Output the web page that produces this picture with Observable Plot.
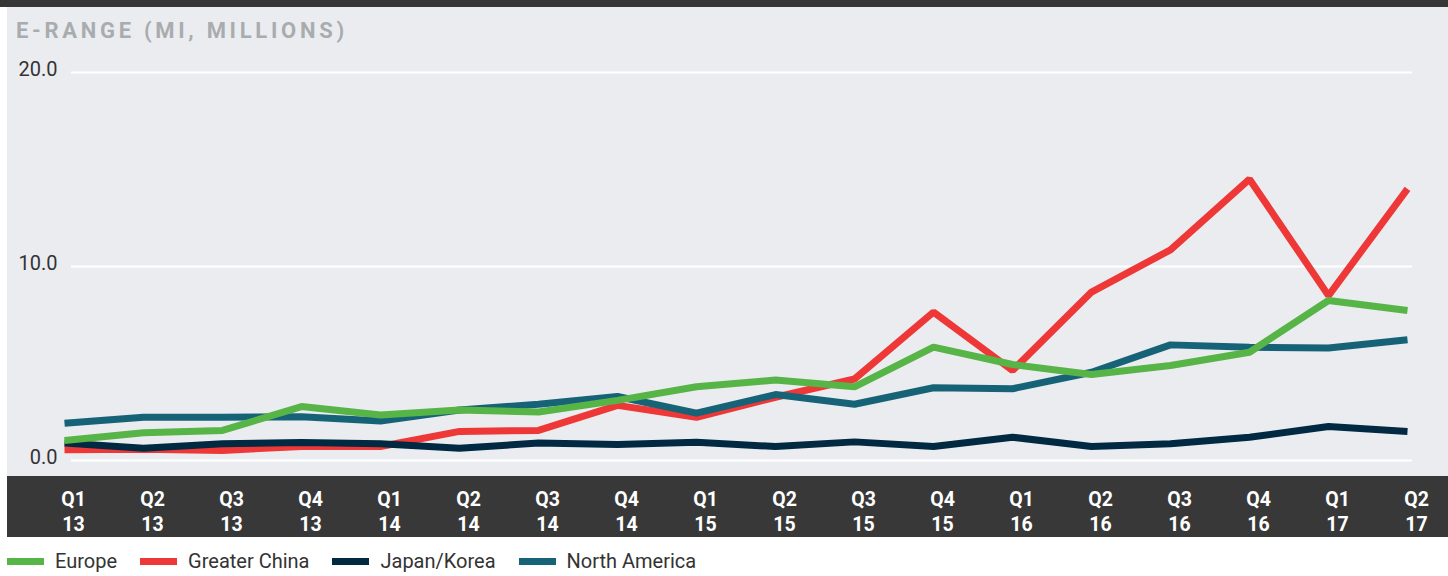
<!DOCTYPE html>
<html>
<head>
<meta charset="utf-8">
<script src="https://cdn.jsdelivr.net/npm/d3@7"></script>
<script src="https://cdn.jsdelivr.net/npm/@observablehq/plot@0.6"></script>
<style>
  html, body { margin: 0; padding: 0; background: #fff; font-family: Roboto, "Noto Sans", sans-serif; }
  #page { width: 1448px; height: 576px; position: relative; overflow: hidden; }
  #topbar { height: 7px; background: #363636; }
  #panel { position: relative; margin-left: 7px; width: 1441px; height: 530px; background: #EBECF0; }
  #band { position: absolute; left: 0; right: 0; top: 469px; height: 61px; background: #383838; }
  #title { position: relative; height: 43px; padding-left: 9px; box-sizing: border-box; padding-top: 11px;
           font-size: 22px; font-weight: 700; letter-spacing: 3.7px; color: #A9ACAF; line-height: 26px; white-space: nowrap; }
  #chart { position: relative; }
  #chart svg { display: block; background: transparent; }
  #legend { display: flex; align-items: center; height: 39px; padding-left: 7px; padding-top: 9px; box-sizing: border-box; font-size: 20px; color: #333; }
  .item { display: flex; align-items: center; margin-right: 23px; }
  .sw { width: 37px; height: 7px; margin-right: 11px; }
</style>
</head>
<body>
<div id="page">
  <div id="topbar"></div>
  <div id="panel">
    <div id="band"></div>
    <div id="title">E-RANGE (MI, MILLIONS)</div>
    <div id="chart"></div>
  </div>
  <div id="legend"></div>
</div>
<script>
const quarterLabels = ["Q1","Q2","Q3","Q4","Q1","Q2","Q3","Q4","Q1","Q2","Q3","Q4","Q1","Q2","Q3","Q4","Q1","Q2"];
const yearLabels    = ["13","13","13","13","14","14","14","14","15","15","15","15","16","16","16","16","17","17"];
const seriesNames = ["Europe", "Greater China", "Japan/Korea", "North America"];
const seriesColors = ["#57B447", "#EE3837", "#012A42", "#166377"];
const yTicks = [0, 10, 20];

const europe  = [1.03,1.43,1.55,2.78,2.35,2.6,2.5,3.1,3.8,4.15,3.8,5.84,4.95,4.43,4.9,5.58,8.25,7.73];
const china   = [0.55,0.58,0.52,0.72,0.72,1.5,1.55,2.84,2.23,3.26,4.2,7.65,4.64,8.68,10.86,14.5,8.5,14.0];
const japan   = [0.9,0.63,0.86,0.93,0.86,0.63,0.9,0.82,0.94,0.72,0.96,0.72,1.2,0.72,0.86,1.2,1.75,1.5];
const northAm = [1.92,2.23,2.23,2.25,2.03,2.6,2.9,3.3,2.44,3.4,2.9,3.75,3.7,4.55,5.96,5.84,5.8,6.22];

const quarters = quarterLabels.map((q, i) => q + "\n" + yearLabels[i]);
// draw order (bottom -> top)
const drawOrder = [["Greater China", china], ["Japan/Korea", japan], ["North America", northAm], ["Europe", europe]];
const data = drawOrder.flatMap(([name, vals]) => vals.map((v, i) => ({series: name, quarter: quarters[i], value: v})));

const chart = Plot.plot({
  width: 1441,
  height: 487,
  marginLeft: 55,
  marginRight: 40,
  marginTop: 22,
  marginBottom: 77,
  style: {background: "transparent", fontFamily: "Roboto, sans-serif"},
  x: {type: "point", domain: quarters, padding: 0},
  y: {domain: [0, 20]},
  color: {domain: seriesNames, range: seriesColors},
  marks: [
    Plot.ruleY(yTicks, {stroke: "#FFFFFF", strokeWidth: 2, insetLeft: 9, insetRight: -4}),
    Plot.axisY(yTicks, {tickSize: 0, tickPadding: 5, tickFormat: d => d.toFixed(1), fontSize: 20, fill: "#333", dy: -3, label: null}),
    Plot.axisX({tickSize: 0, tickPadding: 28, fontSize: 19.5, fontWeight: 700, fill: "#FFFFFF", lineHeight: 1.28, dx: 9, label: null, tickFormat: d => d}),
    Plot.line(data, {x: "quarter", y: "value", z: "series", stroke: "series", strokeWidth: 7, strokeLinecap: "butt", strokeLinejoin: "miter"})
  ]
});
document.getElementById("chart").appendChild(chart);

const legend = document.getElementById("legend");
seriesNames.forEach((name, i) => {
  const item = document.createElement("div");
  item.className = "item";
  const sw = document.createElement("span");
  sw.className = "sw";
  sw.style.background = seriesColors[i];
  const t = document.createElement("span");
  t.textContent = name;
  item.appendChild(sw);
  item.appendChild(t);
  legend.appendChild(item);
});
</script>
</body>
</html>
